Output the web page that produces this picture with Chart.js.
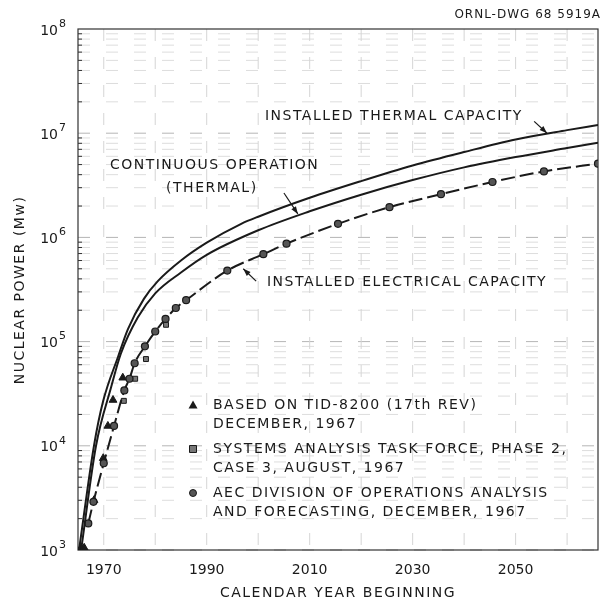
<!DOCTYPE html>
<html>
<head>
<meta charset="utf-8">
<script src="https://cdn.jsdelivr.net/npm/chart.js@4.4.1/dist/chart.umd.min.js"></script>
<style>
  html, body { margin: 0; padding: 0; background: #fff; }
  #wrap { width: 606px; height: 605px; }
</style>
</head>
<body>
<div id="wrap"><canvas id="chart" width="606" height="605"></canvas></div>
<script>
// installed thermal capacity (solid, top)
const thermalYears = [1965.2, 1968.1, 1969.9, 1972.8, 1974.7, 1977.8, 1980.5, 1985, 1990, 1996.7, 2000, 2010, 2020, 2030, 2040, 2050, 2060, 2066];
const thermalMw = [1.0e3, 1.0e4, 2.7e4, 7.2e4, 1.32e5, 2.57e5, 3.8e5, 6.0e5, 8.9e5, 1.35e6, 1.58e6, 2.4e6, 3.47e6, 4.9e6, 6.6e6, 8.7e6, 1.07e7, 1.2e7];

// continuous operation (thermal) (solid, middle)
const continuousYears = [1965.6, 1968.5, 1971.4, 1973.3, 1976.6, 1980, 1985, 1990, 2000, 2010, 2020, 2030, 2040, 2050, 2060, 2066];
const continuousMw = [1.0e3, 1.0e4, 3.6e4, 7.6e4, 1.7e5, 2.9e5, 4.6e5, 6.8e5, 1.17e6, 1.78e6, 2.57e6, 3.55e6, 4.7e6, 5.9e6, 7.2e6, 8.1e6];

// installed electrical capacity - AEC points (dashed with dots)
const electricalYears = [1967, 1968, 1970, 1972, 1974, 1975, 1976, 1978, 1980, 1982, 1984, 1986, 1994, 2001, 2005.5, 2015.5, 2025.5, 2035.5, 2045.5, 2055.5, 2066];
const electricalMw = [1.8e3, 2.9e3, 6.8e3, 1.55e4, 3.4e4, 4.4e4, 6.2e4, 9.0e4, 1.25e5, 1.65e5, 2.1e5, 2.5e5, 4.8e5, 6.9e5, 8.7e5, 1.35e6, 1.95e6, 2.6e6, 3.4e6, 4.3e6, 5.1e6];

// TID-8200 (triangles)
const tidYears = [1965.6, 1966.2, 1968.1, 1969.9, 1970.8, 1971.8, 1973.7];
const tidMw = [1.05e3, 1.05e3, 3.0e3, 7.6e3, 1.55e4, 2.75e4, 4.5e4];

// Systems Analysis Task Force (squares)
const satfYears = [1973.9, 1976.1, 1978.2, 1982.1];
const satfMw = [2.7e4, 4.4e4, 6.8e4, 1.45e5];

const xLabelYears = [1970, 1990, 2010, 2030, 2050];
const xGridYears = [1970, 1980, 1990, 2000, 2010, 2020, 2030, 2040, 2050, 2060];
const yExponents = [3, 4, 5, 6, 7, 8];

const legendLines = [
  ['triangle', 'BASED ON TID-8200 (17th REV)', 'DECEMBER, 1967'],
  ['square', 'SYSTEMS ANALYSIS TASK FORCE, PHASE 2,', 'CASE 3, AUGUST, 1967'],
  ['circle', 'AEC DIVISION OF OPERATIONS ANALYSIS', 'AND FORECASTING, DECEMBER, 1967']
];

const pts = (xs, ys) => xs.map((x, i) => ({ x: x, y: ys[i] }));
const FONT = '"DejaVu Sans", sans-serif';
const INK = '#1a1a1a';

function arrow(ctx, x1, y1, x2, y2) {
  const a = Math.atan2(y2 - y1, x2 - x1);
  ctx.beginPath();
  ctx.moveTo(x1, y1);
  ctx.lineTo(x2, y2);
  ctx.stroke();
  ctx.beginPath();
  ctx.moveTo(x2, y2);
  ctx.lineTo(x2 - 8 * Math.cos(a - 0.35), y2 - 8 * Math.sin(a - 0.35));
  ctx.lineTo(x2 - 8 * Math.cos(a + 0.35), y2 - 8 * Math.sin(a + 0.35));
  ctx.closePath();
  ctx.fill();
}

function marker(ctx, kind, x, y) {
  ctx.beginPath();
  if (kind === 'triangle') {
    ctx.moveTo(x, y - 4.5); ctx.lineTo(x + 4.5, y + 3.5); ctx.lineTo(x - 4.5, y + 3.5); ctx.closePath();
    ctx.fillStyle = INK; ctx.fill();
  } else if (kind === 'square') {
    ctx.rect(x - 3.5, y - 3.5, 7, 7);
    ctx.fillStyle = '#777'; ctx.fill(); ctx.stroke();
  } else {
    ctx.arc(x, y, 3.5, 0, Math.PI * 2);
    ctx.fillStyle = '#555'; ctx.fill(); ctx.stroke();
  }
}

const decor = {
  id: 'decor',
  beforeDatasetsDraw(chart) {
    const { ctx, chartArea: a, scales: { x, y } } = chart;
    ctx.save();
    // faint broken grid
    ctx.lineWidth = 1;
    ctx.setLineDash([12, 16]);
    for (let e = 3; e < 8; e++) {
      for (let m = 1; m <= 9; m++) {
        const py = y.getPixelForValue(m * 10 ** e);
        ctx.strokeStyle = m === 1 ? '#b5b5b5' : '#dddddd';
        ctx.beginPath(); ctx.moveTo(a.left, py); ctx.lineTo(a.right, py); ctx.stroke();
      }
    }
    ctx.strokeStyle = '#d5d5d5';
    xGridYears.forEach(v => {
      const px = x.getPixelForValue(v);
      ctx.beginPath(); ctx.moveTo(px, a.top); ctx.lineTo(px, a.bottom); ctx.stroke();
    });
    ctx.setLineDash([]);
    // frame
    ctx.strokeStyle = '#333';
    ctx.lineWidth = 1.2;
    ctx.strokeRect(a.left, a.top, a.right - a.left, a.bottom - a.top);
    // minor ticks on left edge
    ctx.lineWidth = 1;
    for (let e = 3; e < 8; e++) {
      for (let m = 2; m <= 9; m++) {
        const py = y.getPixelForValue(m * 10 ** e);
        ctx.beginPath(); ctx.moveTo(a.left, py); ctx.lineTo(a.left + 4, py); ctx.stroke();
      }
    }
    ctx.restore();
  },
  afterDatasetsDraw(chart) {
    const { ctx, chartArea: a, scales: { x, y } } = chart;
    ctx.save();
    ctx.fillStyle = INK;
    ctx.strokeStyle = INK;

    // y tick labels with superscripts
    yExponents.forEach(e => {
      const py = y.getPixelForValue(10 ** e);
      ctx.textBaseline = 'middle';
      ctx.textAlign = 'right';
      ctx.font = '14px ' + FONT;
      ctx.fillText('10', a.left - 20, py + 2);
      ctx.textAlign = 'left';
      ctx.font = '11px ' + FONT;
      ctx.fillText(String(e), a.left - 19, py - 5);
    });

    ctx.letterSpacing = '1.5px';
    ctx.font = '14px ' + FONT;
    ctx.textBaseline = 'middle';

    // curve labels
    ctx.textAlign = 'left';
    ctx.fillText('INSTALLED THERMAL CAPACITY', x.getPixelForValue(2001.3), y.getPixelForValue(1.46e7));
    ctx.fillText('CONTINUOUS OPERATION', x.getPixelForValue(1971.2), y.getPixelForValue(4.95e6));
    ctx.textAlign = 'center';
    ctx.fillText('(THERMAL)', x.getPixelForValue(1991), y.getPixelForValue(2.98e6));
    ctx.textAlign = 'left';
    ctx.fillText('INSTALLED ELECTRICAL CAPACITY', x.getPixelForValue(2001.7), y.getPixelForValue(3.73e5));

    // arrows
    ctx.lineWidth = 1.2;
    arrow(ctx, x.getPixelForValue(2053.6), y.getPixelForValue(1.3e7), x.getPixelForValue(2056.1), y.getPixelForValue(1.0e7));
    arrow(ctx, x.getPixelForValue(2005), y.getPixelForValue(2.67e6), x.getPixelForValue(2007.7), y.getPixelForValue(1.68e6));
    arrow(ctx, x.getPixelForValue(1999.6), y.getPixelForValue(3.8e5), x.getPixelForValue(1997.1), y.getPixelForValue(5.0e5));

    // legend block
    const mx = a.left + 115, tx = a.left + 135;
    let ly = a.top + 376;
    legendLines.forEach(([kind, l1, l2]) => {
      ctx.lineWidth = 1;
      marker(ctx, kind, mx, ly);
      ctx.fillStyle = INK;
      ctx.textAlign = 'left';
      ctx.fillText(l1, tx, ly);
      ctx.fillText(l2, tx, ly + 19);
      ly += 44;
    });

    // drawing number
    ctx.textAlign = 'right';
    ctx.font = '12px ' + FONT;
    ctx.letterSpacing = '1px';
    ctx.fillText('ORNL-DWG 68 5919A', 601, 15);

    // axis titles
    ctx.font = '14px ' + FONT;
    ctx.letterSpacing = '1.5px';
    ctx.textAlign = 'center';
    ctx.fillText('CALENDAR YEAR BEGINNING', (a.left + a.right) / 2, 593);
    ctx.translate(20, 290);
    ctx.rotate(-Math.PI / 2);
    ctx.fillText('NUCLEAR POWER (Mw)', 0, 0);
    ctx.restore();
  }
};

new Chart(document.getElementById('chart'), {
  type: 'scatter',
  data: {
    datasets: [
      {
        label: 'Installed thermal capacity',
        data: pts(thermalYears, thermalMw),
        showLine: true,
        borderColor: INK,
        borderWidth: 2,
        pointRadius: 0,
        cubicInterpolationMode: 'monotone'
      },
      {
        label: 'Continuous operation (thermal)',
        data: pts(continuousYears, continuousMw),
        showLine: true,
        borderColor: INK,
        borderWidth: 2,
        pointRadius: 0,
        cubicInterpolationMode: 'monotone'
      },
      {
        label: 'Installed electrical capacity',
        data: pts(electricalYears, electricalMw),
        showLine: true,
        borderColor: INK,
        borderWidth: 2,
        borderDash: [14, 5],
        cubicInterpolationMode: 'monotone',
        pointStyle: 'circle',
        pointRadius: 3.5,
        pointBackgroundColor: '#555',
        pointBorderColor: INK,
        pointBorderWidth: 1.2
      },
      {
        label: 'TID-8200',
        data: pts(tidYears, tidMw),
        showLine: false,
        pointStyle: 'triangle',
        pointRadius: 4.5,
        pointBackgroundColor: INK,
        pointBorderColor: INK,
        pointBorderWidth: 1
      },
      {
        label: 'Systems Analysis Task Force',
        data: pts(satfYears, satfMw),
        showLine: false,
        pointStyle: 'rect',
        pointRadius: 3.5,
        pointBackgroundColor: '#777',
        pointBorderColor: INK,
        pointBorderWidth: 1
      }
    ]
  },
  options: {
    responsive: false,
    animation: false,
    layout: { padding: { top: 29, right: 8, left: 0, bottom: 0 } },
    plugins: { legend: { display: false }, tooltip: { enabled: false } },
    scales: {
      x: {
        type: 'linear',
        min: 1965,
        max: 2066,
        grid: { display: false, drawTicks: false },
        border: { display: false },
        afterBuildTicks: s => { s.ticks = xLabelYears.map(v => ({ value: v })); },
        afterFit: s => { s.height = 55; },
        ticks: {
          autoSkip: false,
          maxRotation: 0,
          padding: 12,
          color: INK,
          font: { family: FONT, size: 14 },
          callback: v => String(v)
        }
      },
      y: {
        type: 'logarithmic',
        min: 1e3,
        max: 1e8,
        grid: { display: false },
        border: { display: false },
        ticks: { display: false },
        afterFit: s => { s.width = 78; }
      }
    }
  },
  plugins: [decor]
});
</script>
</body>
</html>
